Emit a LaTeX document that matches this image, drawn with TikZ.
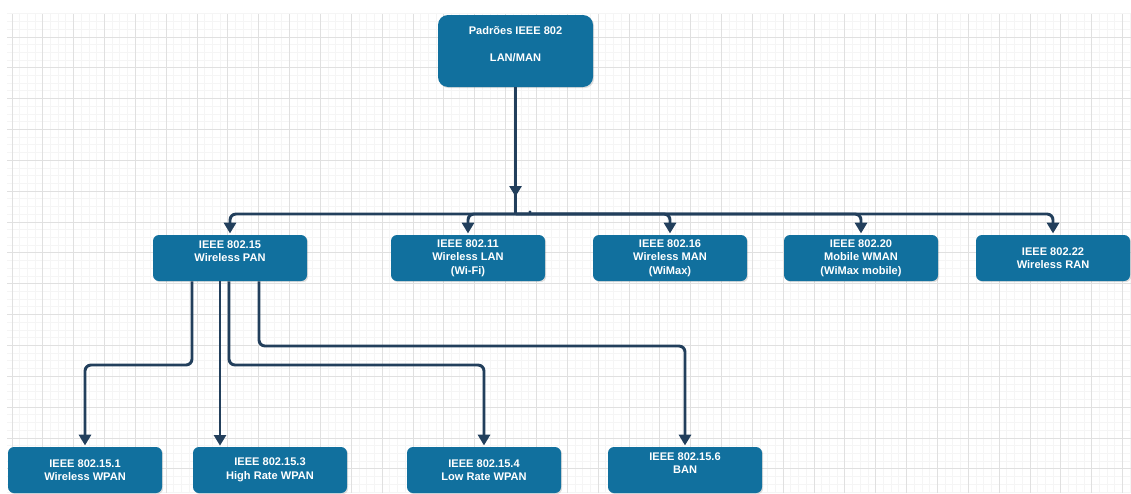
\documentclass[tikz,border=0pt]{standalone}
\usepackage{fontspec}
\setmainfont{Liberation Sans}
\usetikzlibrary{arrows.meta,shadows}
\definecolor{boxblue}{HTML}{11709E}
\definecolor{linecol}{HTML}{223F5C}
\definecolor{gridmaj}{HTML}{E0E0E0}
\definecolor{gridmin}{HTML}{F5F5F5}
\begin{document}
\begin{tikzpicture}[x=0.75pt,y=-0.75pt,
  box/.style={rectangle, rounded corners=4.5pt, fill=boxblue, text=white,
    font=\fontsize{8.3}{10.1}\selectfont\bfseries, align=center,
    minimum width=115.5pt, minimum height=34.5pt, inner sep=0pt,
    drop shadow={opacity=0.25,shadow xshift=0.9pt,shadow yshift=-0.9pt}},
  conn/.style={draw=linecol, line width=2.2pt, rounded corners=4.5pt},
  tip/.style={-{Triangle[width=9pt,length=8pt]}, shorten >=1pt}
]
\useasboundingbox (0,0) rectangle (1131,493);
\fill[white] (0,0) rectangle (1131,493);
% grid
\foreach \k in {0,...,145} {\draw[gridmin, line width=0.75pt] ({12+7.7125*\k},14) -- ({12+7.7125*\k},493);}
\foreach \k in {-3,...,59} {\draw[gridmin, line width=0.75pt] (7,{37+7.7125*\k}) -- (1131,{37+7.7125*\k});}
\foreach \k in {0,...,36} {\draw[gridmaj, line width=0.75pt] ({12+30.85*\k},14) -- ({12+30.85*\k},493);}
\foreach \k in {0,...,14} {\draw[gridmaj, line width=0.75pt] (7,{37+30.85*\k}) -- (1131,{37+30.85*\k});}

% nodes
\node[box, rounded corners=7.5pt, minimum width=116.25pt, minimum height=54pt] (top) at (515.5,51)
  {Padrões IEEE 802\\\mbox{}\\LAN/MAN\\\mbox{}};
\node[box] (pan) at (230,258) {IEEE 802.15\\Wireless PAN\\\mbox{}};
\node[box] (lan) at (468,258) {IEEE 802.11\\Wireless LAN\\(Wi-Fi)};
\node[box] (man) at (670,258) {IEEE 802.16\\Wireless MAN\\(WiMax)};
\node[box] (mwan) at (861,258) {IEEE 802.20\\Mobile WMAN\\(WiMax mobile)};
\node[box] (ran) at (1053,258) {IEEE 802.22\\Wireless RAN};
\node[box] (w1) at (85,470) {IEEE 802.15.1\\Wireless WPAN};
\node[box] (w3) at (270,470) {IEEE 802.15.3\\High Rate WPAN};
\node[box] (w4) at (484,470) {IEEE 802.15.4\\Low Rate WPAN};
\node[box] (ban) at (685,470) {IEEE 802.15.6\\BAN\\\mbox{}};

% coordinates
\coordinate (J) at (515.5,214);
\coordinate (Jt) at (515.5,198);
\coordinate (l1) at (192,365);
\coordinate (l2) at (220,447);
\coordinate (l3) at (229,365);
\coordinate (l4) at (259,346);

% connectors
\draw[conn] (top.south) -- (J);
\draw[conn, tip] (top.south) -- (Jt);
\draw[conn, tip] (J) -| (pan.north);
\draw[conn, tip] (J) -| (lan.north);
\draw[conn, tip] (J) -| (man.north);
\draw[conn, tip] (J) -| (mwan.north);
\draw[conn, tip] (J) -| (ran.north);
\fill[linecol] (530,212) circle (1.2pt);

\draw[conn, tip] (pan.south -| l1) -- (l1) -| (w1.north);
\draw[conn, tip] (pan.south -| l2) -- (l2);
\draw[conn, tip] (pan.south -| l3) -- (l3) -| (w4.north);
\draw[conn, tip] (pan.south -| l4) -- (l4) -| (ban.north);
\end{tikzpicture}
\end{document}
